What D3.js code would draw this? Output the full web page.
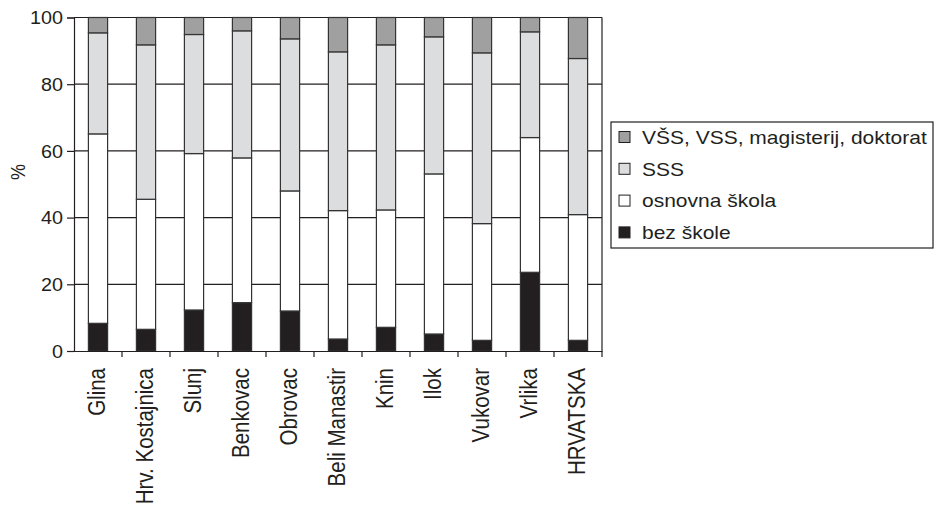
<!DOCTYPE html>
<html><head><meta charset="utf-8">
<script src="https://cdn.jsdelivr.net/npm/d3@7"></script>
<style>body{margin:0;background:#fff}svg{display:block}text{font-family:"Liberation Sans",Arial,sans-serif;fill:#231f20}</style>
</head><body><svg id="c" width="934" height="507"></svg>
<script>
const categories = ["Glina","Hrv. Kostajnica","Slunj","Benkovac","Obrovac","Beli Manastir","Knin","Ilok","Vukovar","Vrlika","HRVATSKA"];
const bezSkole   = [8.3, 6.5, 12.3, 14.5, 12.0, 3.6, 7.1, 5.1, 3.2, 23.6, 3.2];
const osnovna    = [56.8, 39.0, 46.9, 43.4, 36.0, 38.5, 35.2, 48.0, 35.0, 40.4, 37.7];
const sss        = [30.3, 46.3, 35.7, 38.1, 45.6, 47.6, 49.5, 41.1, 51.2, 31.7, 46.8];
const vss        = [4.6, 8.2, 5.1, 4.0, 6.4, 10.3, 8.2, 5.8, 10.6, 4.3, 12.3];
const seriesNames = ["bez škole","osnovna škola","SSS","VŠS, VSS, magisterij, doktorat"];
const seriesColors = ["#231f20","#ffffff","#dcdddf","#a0a0a0"];
const yTicks = [0,20,40,60,80,100];

const SX = 1.13; // horizontal stretch of the original text
const svg = d3.select("#c");
const m = {l:74, r:602, t:17.5, b:351};
const x = d3.scaleBand().domain(categories).range([m.l, m.r]).paddingInner(0.6).paddingOuter(0.3);
const xb = d3.scaleBand().domain(categories).range([m.l, m.r]);
const y = d3.scaleLinear().domain([0,100]).range([m.b, m.t]);

const rows = categories.map((c,i)=>({cat:c, s0:bezSkole[i], s1:osnovna[i], s2:sss[i], s3:vss[i]}));
const stack = d3.stack().keys(["s0","s1","s2","s3"])(rows);

// grid
svg.append("g").selectAll("line").data(yTicks.filter(v=>v>0)).join("line")
  .attr("x1",m.l).attr("x2",m.r).attr("y1",d=>y(d)).attr("y2",d=>y(d))
  .attr("stroke","#231f20").attr("stroke-width",1.2);
svg.append("line").attr("x1",m.r).attr("x2",m.r).attr("y1",m.t).attr("y2",m.b).attr("stroke","#231f20").attr("stroke-width",1.2);

// bars
svg.append("g").selectAll("g").data(stack).join("g")
  .attr("fill",(d,i)=>seriesColors[i])
  .selectAll("rect").data(d=>d).join("rect")
  .attr("x",d=>x(d.data.cat)).attr("width",x.bandwidth())
  .attr("y",d=>y(d[1])).attr("height",d=>y(d[0])-y(d[1]))
  .attr("stroke","#333").attr("stroke-width",1.2);

// y axis
const ya = svg.append("g").attr("transform",`translate(${m.l},0)`)
  .call(d3.axisLeft(y).tickValues(yTicks).tickSize(7).tickPadding(5));
ya.select(".domain").attr("stroke","#231f20").attr("stroke-width",1.2);
ya.selectAll(".tick line").attr("stroke","#231f20").attr("stroke-width",1.2);
ya.selectAll(".tick text").attr("x",0).attr("dy","0.36em")
  .attr("transform",`translate(-11,0) scale(${SX},1)`)
  .attr("font-size",17.5).attr("fill","#231f20").style("font-family","Liberation Sans, Arial, sans-serif");

// x axis
const xa = svg.append("g").attr("transform",`translate(0,${m.b})`)
  .call(d3.axisBottom(xb).tickSize(0).tickFormat(""));
xa.select(".domain").attr("stroke","#231f20").attr("stroke-width",1.2);
xa.append("g").selectAll("line").data(categories).join("line")
  .attr("x1",(d,i)=>m.l + xb.step()*(i+1)).attr("x2",(d,i)=>m.l + xb.step()*(i+1))
  .attr("y1",0).attr("y2",6).attr("stroke","#231f20").attr("stroke-width",1.2);
svg.append("g").selectAll("text").data(categories).join("text")
  .attr("transform",d=>`translate(${xb(d)+xb.bandwidth()/2-1.5},${m.b+17}) scale(${SX},1) rotate(-90)`)
  .attr("text-anchor","end").attr("dy","0.36em").attr("font-size",20.5).text(d=>d);

// y label
svg.append("text").attr("transform",`translate(17.5,172) scale(${SX},1) rotate(-90)`)
  .attr("text-anchor","middle").attr("dy","0.36em").attr("font-size",18).text("%");

// legend
const lg = svg.append("g");
lg.append("rect").attr("x",611).attr("y",122).attr("width",322).attr("height",126)
  .attr("fill","#fff").attr("stroke","#231f20").attr("stroke-width",1.2);
const order = [3,2,1,0];
order.forEach((si,k)=>{
  const cy = 137 + k*31.8;
  lg.append("rect").attr("x",619).attr("y",cy-5.5).attr("width",11).attr("height",11)
    .attr("fill",seriesColors[si]).attr("stroke","#231f20").attr("stroke-width",1);
  lg.append("text").attr("transform",`translate(642,${cy}) scale(${SX},1)`)
    .attr("dy","0.36em").attr("font-size",18.6).text(seriesNames[si]);
});
</script></body></html>
